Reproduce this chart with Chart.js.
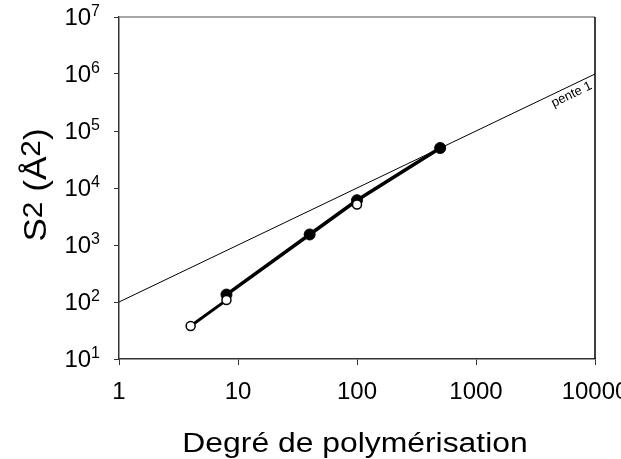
<!DOCTYPE html>
<html>
<head>
<meta charset="utf-8">
<script src="https://cdn.jsdelivr.net/npm/chart.js@4/dist/chart.umd.min.js"></script>
<style>
html,body{margin:0;padding:0;background:#fff;}
canvas{display:block;}
</style>
</head>
<body>
<canvas id="c" width="621" height="459"></canvas>
<script>
// ---- data ----
const xFilled = [8, 40, 100, 500];
const yFilled = [135, 1530, 6100, 50300];
const xOpen = [4, 8, 100];
const yOpen = [38, 108, 5130];
const xRef = [1, 10000];
const yRef = [100, 1000000];
const xTickLabels = ['1', '10', '100', '1000', '10000'];
const xTickValues = [1, 10, 100, 1000, 10000];
const yTickExps = ['1', '2', '3', '4', '5', '6', '7'];
const yTickValues = [10, 100, 1000, 10000, 100000, 1000000, 10000000];
const refLabel = 'pente 1';
const xTitle = 'Degré de polymérisation';

const toPts = (xs, ys) => xs.map((x, i) => ({x: x, y: ys[i]}));
const FONT = '"Liberation Sans", Arial, sans-serif';

function drawRich(ctx, parts, x, y, k, align) {
  let total = 0;
  const widths = parts.map(p => {
    ctx.font = p.s + 'px ' + FONT;
    const w = ctx.measureText(p.t).width * k;
    total += w;
    return w;
  });
  let cx = align === 'center' ? x - total / 2 : (align === 'right' ? x - total : x);
  parts.forEach((p, i) => {
    ctx.save();
    ctx.font = p.s + 'px ' + FONT;
    ctx.textAlign = 'left';
    ctx.textBaseline = 'alphabetic';
    ctx.translate(cx, y + (p.dy || 0));
    ctx.scale(k, 1);
    ctx.fillText(p.t, 0, 0);
    ctx.restore();
    cx += widths[i];
  });
}

const textPlugin = {
  id: 'texts',
  afterDraw(chart) {
    const ctx = chart.ctx, xs = chart.scales.x, ys = chart.scales.y, a = chart.chartArea;
    ctx.save();
    // frame: top (gray) and right (black)
    ctx.lineWidth = 1.5;
    ctx.strokeStyle = '#888';
    ctx.beginPath(); ctx.moveTo(a.left, a.top); ctx.lineTo(a.right, a.top); ctx.stroke();
    ctx.strokeStyle = '#000';
    ctx.beginPath(); ctx.moveTo(a.right, a.top); ctx.lineTo(a.right, a.bottom); ctx.stroke();
    ctx.fillStyle = '#000';
    // x tick labels
    xTickLabels.forEach((lab, i) => {
      const px = xs.getPixelForValue(xTickValues[i]);
      drawRich(ctx, [{t: lab, s: 24}], px, 399, 1.0, 'center');
    });
    // y tick labels
    yTickExps.forEach((e, i) => {
      const py = ys.getPixelForValue(yTickValues[i]);
      drawRich(ctx, [{t: '10', s: 24}, {t: e, s: 16, dy: -9}], 100, py + 8, 1.0, 'right');
    });
    // x title
    drawRich(ctx, [{t: xTitle, s: 27}], (a.left + a.right) / 2 - 2, 452, 1.18, 'center');
    // y title (rotated)
    ctx.save();
    ctx.translate(46, (a.top + a.bottom) / 2 - 3);
    ctx.rotate(-Math.PI / 2);
    drawRich(ctx, [
      {t: 'S', s: 32},
      {t: '2', s: 27, dy: -4},
      {t: ' (Å', s: 32},
      {t: '2', s: 27, dy: -6},
      {t: ')', s: 32}
    ], 0, 0, 1.1, 'center');
    ctx.restore();
    // reference label
    const x1 = xs.getPixelForValue(xRef[0]), y1 = ys.getPixelForValue(yRef[0]);
    const x2 = xs.getPixelForValue(xRef[1]), y2 = ys.getPixelForValue(yRef[1]);
    const ang = Math.atan2(y2 - y1, x2 - x1);
    const lx = 568;
    const ly = y1 + (lx - x1) * (y2 - y1) / (x2 - x1);
    ctx.save();
    ctx.translate(lx, ly);
    ctx.rotate(ang);
    ctx.font = '13px ' + FONT;
    ctx.textAlign = 'center';
    ctx.textBaseline = 'top';
    ctx.fillText(refLabel, 0, 2);
    ctx.restore();
    ctx.restore();
  }
};

new Chart(document.getElementById('c'), {
  type: 'line',
  data: {
    datasets: [
      {
        label: 'open',
        data: toPts(xOpen, yOpen),
        borderColor: '#000',
        borderWidth: 3,
        segment: {borderColor: c => c.p0DataIndex === 0 ? '#000' : 'rgba(0,0,0,0)'},
        pointRadius: 4.5,
        pointBorderWidth: 1.5,
        pointBackgroundColor: '#fff',
        pointBorderColor: '#000',
        tension: 0
      },
      {
        label: 'filled',
        data: toPts(xFilled, yFilled),
        borderColor: '#000',
        borderWidth: 3.5,
        pointRadius: 5.5,
        pointBorderWidth: 1,
        pointBackgroundColor: '#000',
        pointBorderColor: '#000',
        tension: 0
      },
      {
        label: 'pente',
        data: toPts(xRef, yRef),
        borderColor: '#000',
        borderWidth: 1,
        pointRadius: 0,
        tension: 0
      }
    ]
  },
  options: {
    responsive: false,
    animation: false,
    devicePixelRatio: 1,
    layout: {padding: {top: 17, right: 26, bottom: 0, left: 0}},
    plugins: {legend: {display: false}, tooltip: {enabled: false}},
    scales: {
      x: {
        type: 'logarithmic',
        min: 1, max: 10000,
        afterBuildTicks: s => { s.ticks = xTickValues.map(v => ({value: v})); },
        afterFit: s => { s.height = 100; },
        ticks: {display: false},
        grid: {drawOnChartArea: false, drawTicks: true, tickLength: 6, color: '#333', lineWidth: 1},
        border: {display: true, color: '#333', width: 1.5}
      },
      y: {
        type: 'logarithmic',
        min: 10, max: 10000000,
        afterBuildTicks: s => { s.ticks = yTickValues.map(v => ({value: v})); },
        afterFit: s => { s.width = 119; },
        ticks: {display: false},
        grid: {drawOnChartArea: false, drawTicks: true, tickLength: 5, color: '#333', lineWidth: 1},
        border: {display: true, color: '#333', width: 1.5}
      }
    }
  },
  plugins: [textPlugin]
});
</script>
</body>
</html>
